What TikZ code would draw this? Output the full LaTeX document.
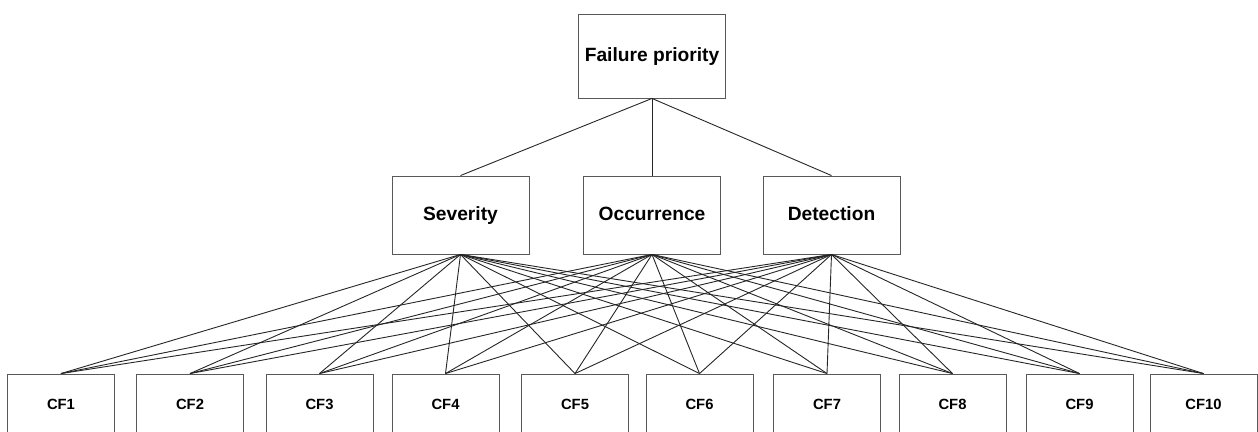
\documentclass[tikz,border=0pt]{standalone}
\usepackage{fontspec}
\setmainfont{Liberation Sans}
\usepackage{tikz}

\begin{document}
\begin{tikzpicture}[
    x=1pt, y=-1pt,
    box/.style={draw=black!65, line width=0.9pt, rectangle, align=center,
      font=\bfseries\fontsize{19.2}{22}\selectfont, inner sep=0pt,
      text height=1.05em, text depth=0pt},
    cfbox/.style={box, minimum width=107pt, minimum height=64pt,
      font=\bfseries\fontsize{14.8}{17}\selectfont, text height=0.72em},
    link/.style={black!85, line width=0.9pt}
]
\useasboundingbox (0,0) rectangle (1258,431);
\clip (0,0) rectangle (1258,431);

\node[box, minimum width=147pt, minimum height=84pt] (priority) at (652,56) {Failure priority};

\node[box, minimum width=137pt, minimum height=78pt] (sev) at (460.5,215) {Severity};
\node[box, minimum width=137pt, minimum height=78pt] (occ) at (652,215) {Occurrence};
\node[box, minimum width=137pt, minimum height=78pt] (det) at (831.5,215) {Detection};

% criteria boxes, cut off at the bottom edge
\foreach \i/\xc in {1/61, 2/190, 3/319.5, 4/445.5, 5/575,
                    6/699.5, 7/827, 8/952.5, 9/1079.5, 10/1203.5}
  \node[cfbox] (cf\i) at (\xc,406) {CF\i};

\draw[link] (priority.south) -- (sev.north);
\draw[link] (priority.south) -- (occ.north);
\draw[link] (priority.south) -- (det.north);

\foreach \m in {sev, occ, det}
  \foreach \i in {1,...,10}
    \draw[link] (\m.south) -- (cf\i.north);
\end{tikzpicture}
\end{document}
